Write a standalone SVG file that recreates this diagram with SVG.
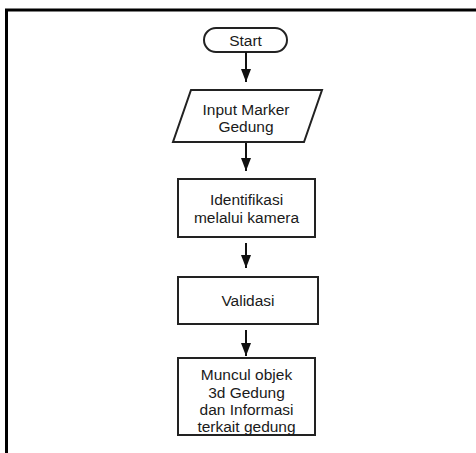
<svg xmlns="http://www.w3.org/2000/svg" width="476" height="453" viewBox="0 0 476 453">
  <style>
    .shape { fill: #fff; stroke: #222; stroke-width: 2; }
    .label { font-family: "Liberation Sans", Arial, sans-serif; font-size: 15.5px; fill: #1a1a1a; text-anchor: middle; }
    .conn { stroke: #111; stroke-width: 2; fill: none; }
  </style>
  <defs>
    <!-- filled arrowhead, drawn pointing along +x so orient="auto" turns it down the line -->
    <marker id="arrow" markerUnits="userSpaceOnUse" markerWidth="13" markerHeight="11" refX="13" refY="5.5" orient="auto" viewBox="0 0 13 11">
      <path d="M0,0.5 L13,5.5 L0,10.5 Z" fill="#111"/>
    </marker>
  </defs>
  <rect x="0" y="0" width="476" height="453" fill="#fff"/>
  <!-- outer frame, open to the right and bottom -->
  <path d="M6.5,453 V10 H476" fill="none" stroke="#000" stroke-width="3"/>

  <g id="start">
    <rect class="shape" x="204" y="28" width="83" height="24" rx="12" ry="12"/>
    <text class="label" x="245.5" y="45.5">Start</text>
  </g>
  <g id="input-marker">
    <polygon class="shape" points="191,90 322,90 304,142 173,142"/>
    <text class="label" x="246" y="115">Input Marker</text>
    <text class="label" x="246" y="132">Gedung</text>
  </g>
  <g id="identifikasi">
    <rect class="shape" x="178" y="179" width="137" height="58"/>
    <text class="label" x="246.5" y="205">Identifikasi</text>
    <text class="label" x="246.5" y="223">melalui kamera</text>
  </g>
  <g id="validasi">
    <rect class="shape" x="178" y="277" width="140" height="47"/>
    <text class="label" x="248" y="306">Validasi</text>
  </g>
  <g id="hasil">
    <rect class="shape" x="178" y="358" width="137" height="77"/>
    <text class="label" x="246.5" y="380">Muncul objek</text>
    <text class="label" x="246.5" y="397.5">3d Gedung</text>
    <text class="label" x="246.5" y="415">dan Informasi</text>
    <text class="label" x="246.5" y="431.5">terkait gedung</text>
  </g>

  <g id="connectors">
    <path class="conn" d="M246,52 V82" marker-end="url(#arrow)"/>
    <path class="conn" d="M246,143 V171" marker-end="url(#arrow)"/>
    <path class="conn" d="M246,243 V268" marker-end="url(#arrow)"/>
    <path class="conn" d="M246,330 V356" marker-end="url(#arrow)"/>
  </g>
</svg>
